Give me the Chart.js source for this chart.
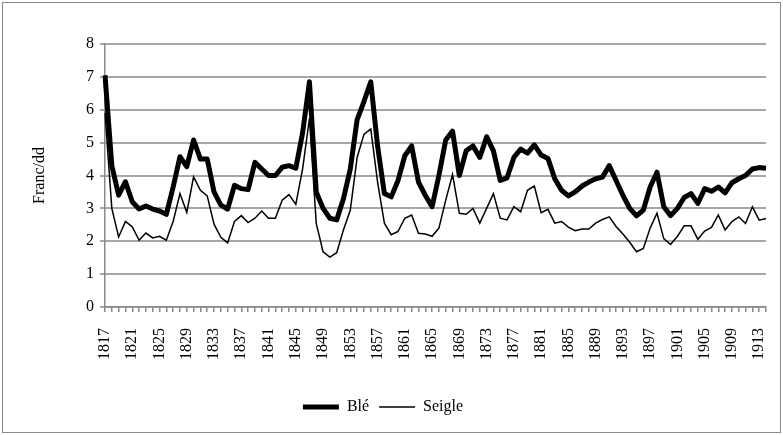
<!DOCTYPE html>
<html>
<head>
<meta charset="utf-8">
<script src="https://cdn.jsdelivr.net/npm/chart.js@4.4.1/dist/chart.umd.min.js"></script>
<style>
html,body{margin:0;padding:0;background:#fff;}
#wrap{width:783px;height:435px;position:relative;}
</style>
</head>
<body>
<div id="wrap"><canvas id="c" width="783" height="435"></canvas></div>
<script>
const years = [1817,1818,1819,1820,1821,1822,1823,1824,1825,1826,1827,1828,1829,1830,1831,1832,1833,1834,1835,1836,
1837,1838,1839,1840,1841,1842,1843,1844,1845,1846,1847,1848,1849,1850,1851,1852,1853,1854,1855,1856,
1857,1858,1859,1860,1861,1862,1863,1864,1865,1866,1867,1868,1869,1870,1871,1872,1873,1874,1875,1876,
1877,1878,1879,1880,1881,1882,1883,1884,1885,1886,1887,1888,1889,1890,1891,1892,1893,1894,1895,1896,
1897,1898,1899,1900,1901,1902,1903,1904,1905,1906,1907,1908,1909,1910,1911,1912,1913,1914];

const ble = [7.05,4.3,3.4,3.81,3.2,2.98,3.07,2.98,2.92,2.82,
3.65,4.57,4.27,5.08,4.5,4.5,3.5,3.1,2.98,3.7,
3.6,3.57,4.4,4.2,4.0,4.0,4.25,4.3,4.22,5.3,
6.85,3.5,3.0,2.7,2.65,3.3,4.2,5.7,6.25,6.85,
4.9,3.45,3.35,3.85,4.6,4.9,3.8,3.4,3.05,4.0,
5.08,5.35,4.0,4.75,4.9,4.55,5.18,4.75,3.85,3.93,
4.55,4.8,4.68,4.93,4.62,4.52,3.9,3.55,3.38,3.5,
3.68,3.8,3.9,3.95,4.3,3.85,3.4,3.0,2.77,2.95,
3.65,4.1,3.05,2.78,3.0,3.33,3.45,3.15,3.6,3.52,
3.65,3.47,3.78,3.9,4.0,4.2,4.24,4.22];

const seigle = [5.9,3.0,2.13,2.6,2.44,2.03,2.25,2.1,2.15,2.03,
2.6,3.45,2.88,3.96,3.55,3.38,2.52,2.12,1.95,2.6,
2.78,2.57,2.7,2.92,2.7,2.7,3.25,3.42,3.12,4.2,
5.74,2.54,1.68,1.52,1.65,2.35,2.95,4.55,5.25,5.42,
3.8,2.55,2.2,2.3,2.7,2.8,2.24,2.22,2.15,2.4,
3.25,4.03,2.85,2.82,3.0,2.55,3.0,3.45,2.7,2.65,
3.05,2.9,3.55,3.68,2.87,2.97,2.55,2.6,2.43,2.32,
2.37,2.37,2.55,2.66,2.74,2.45,2.22,1.97,1.68,1.78,
2.4,2.85,2.08,1.9,2.15,2.47,2.47,2.06,2.31,2.42,
2.8,2.34,2.6,2.74,2.54,3.05,2.64,2.69];

const yMin = 0, yMax = 8, yStep = 1;
const labelStep = 4;

const FONT = '"Liberation Serif", "Times New Roman", serif';
const GRID = '#8a8a8a';

const borderPlugin = {
  id: 'outerBorder',
  beforeDraw(chart) {
    const ctx = chart.ctx;
    ctx.save();
    ctx.fillStyle = '#fff';
    ctx.fillRect(0, 0, chart.width, chart.height);
    ctx.strokeStyle = GRID;
    ctx.lineWidth = 1;
    ctx.strokeRect(2.5, 2.5, chart.width - 5, chart.height - 5);
    ctx.restore();
  },
  beforeDatasetsDraw(chart) {
    const ctx = chart.ctx, ys = chart.scales.y, area = chart.chartArea;
    ctx.save();
    ctx.strokeStyle = GRID;
    ctx.lineWidth = 1.5;
    ys.ticks.forEach(t => {
      const py = Math.round(ys.getPixelForValue(t.value));
      ctx.beginPath();
      ctx.moveTo(area.left - 5, py);
      ctx.lineTo(area.right, py);
      ctx.stroke();
    });
    ctx.restore();
  }
};

new Chart(document.getElementById('c'), {
  type: 'line',
  data: {
    labels: years.map(String),
    datasets: [
      {label: 'Blé', data: ble, borderColor: '#000', backgroundColor: '#000', borderWidth: 5,
       pointRadius: 0, tension: 0, pointStyle: 'line', borderJoinStyle: 'round'},
      {label: 'Seigle', data: seigle, borderColor: '#000', backgroundColor: '#000', borderWidth: 1.5,
       pointRadius: 0, tension: 0, pointStyle: 'line'}
    ]
  },
  options: {
    responsive: false,
    animation: false,
    devicePixelRatio: 1,
    layout: {padding: {top: 44, right: 17, bottom: 10, left: 0}},
    plugins: {
      legend: {
        position: 'bottom',
        labels: {
          usePointStyle: true,
          pointStyleWidth: 36,
          boxHeight: 10,
          color: '#000',
          font: {family: FONT, size: 16},
          padding: 10
        }
      },
      tooltip: {enabled: false}
    },
    scales: {
      x: {
        offset: false,
        grid: {display: true, drawOnChartArea: false, drawTicks: true, tickLength: 5, color: GRID, lineWidth: 1.5},
        border: {display: true, color: GRID, width: 1.5},
        ticks: {
          autoSkip: false, maxRotation: 90, minRotation: 90, color: '#000', padding: 16,
          font: {family: FONT, size: 16},
          callback: function(v, i) { return i % labelStep === 0 ? years[i] : ''; }
        },
        afterFit(scale) { scale.height = 82; scale.paddingLeft = 0; scale.paddingRight = 0; }
      },
      y: {
        min: yMin, max: yMax,
        grid: {display: true, drawOnChartArea: false, drawTicks: false, color: GRID, lineWidth: 1.5},
        border: {display: true, color: GRID, width: 1.5},
        ticks: {stepSize: yStep, color: '#000', padding: 11, font: {family: FONT, size: 16}},
        title: {display: true, text: 'Franc/dd', color: '#000', font: {family: FONT, size: 16}, padding: {top: 30, bottom: 0}},
        afterFit(scale) { scale.width = 105; }
      }
    }
  },
  plugins: [borderPlugin]
});
</script>
</body>
</html>
